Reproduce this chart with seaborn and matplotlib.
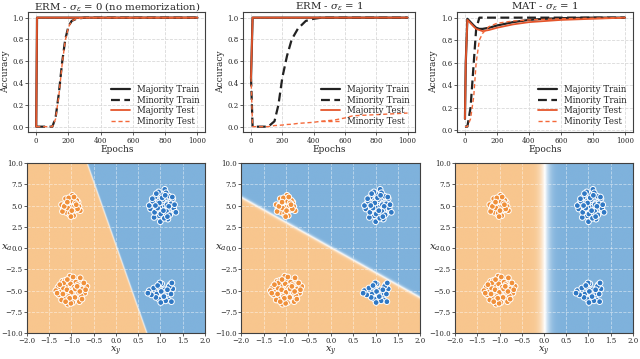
import numpy as np
import pandas as pd
import matplotlib
matplotlib.use("Agg")
import matplotlib.pyplot as plt
import seaborn as sns
from matplotlib.colors import LinearSegmentedColormap

sns.set_style("whitegrid", {"grid.linestyle": "--", "axes.edgecolor": "0.25"})
plt.rcParams["font.family"] = ["DejaVu Serif"]
plt.rcParams["mathtext.fontset"] = "dejavuserif"

# ---- training curves ----
titles = ["ERM - $\\sigma_\\epsilon$ = 0 (no memorization)",
          "ERM - $\\sigma_\\epsilon$ = 1",
          "MAT - $\\sigma_\\epsilon$ = 1"]

ep1 = [0, 5, 20, 50, 100, 120, 140, 160, 180, 200, 220, 250, 300, 400, 600, 800, 1000]
maj_train1 = [0.0, 1, 1, 1, 1, 1, 1, 1, 1, 1, 1, 1, 1, 1, 1, 1, 1]
min_train1 = [0.0, 0, 0, 0, 0.0, 0.08, 0.3, 0.58, 0.8, 0.92, 0.97, 0.99, 1.0, 1.0, 1.0, 1.0, 1.0]
maj_test1 = maj_train1
min_test1 = [0.0, 0, 0, 0, 0.0, 0.07, 0.28, 0.56, 0.79, 0.91, 0.97, 0.99, 1.0, 1.0, 1.0, 1.0, 1.0]

ep2 = [0, 10, 50, 110, 150, 175, 200, 230, 260, 300, 350, 400, 450, 530, 600, 650, 800, 1000]
maj_train2 = [0.45, 1, 1, 1, 1, 1, 1, 1, 1, 1, 1, 1, 1, 1, 1, 1, 1, 1]
min_train2 = [0.45, 0.0, 0.0, 0.0, 0.05, 0.2, 0.45, 0.65, 0.8, 0.9, 0.97, 0.99, 1.0, 1.0, 1.0, 1.0, 1.0, 1.0]
maj_test2 = maj_train2
min_test2 = [0.45, 0.0, 0.0, 0.0, 0.01, 0.012, 0.015, 0.02, 0.022, 0.03, 0.035, 0.04, 0.05, 0.06, 0.08, 0.1, 0.11, 0.125]

ep3 = [0, 5, 15, 35, 55, 70, 90, 110, 150, 200, 300, 400, 500, 600, 800, 1000]
maj_train3 = [0.1, 0.6, 0.99, 0.96, 0.93, 0.91, 0.9, 0.9, 0.91, 0.93, 0.96, 0.98, 0.99, 0.995, 1.0, 1.0]
min_train3 = [0.03, 0.03, 0.03, 0.2, 0.6, 0.9, 1.0, 1.0, 1.0, 1.0, 1.0, 1.0, 1.0, 1.0, 1.0, 1.0]
maj_test3 = [0.1, 0.6, 0.98, 0.95, 0.92, 0.9, 0.89, 0.88, 0.89, 0.91, 0.94, 0.96, 0.97, 0.98, 0.99, 1.0]
min_test3 = [0.03, 0.03, 0.03, 0.1, 0.3, 0.6, 0.8, 0.86, 0.92, 0.95, 0.97, 0.98, 0.985, 0.99, 0.995, 1.0]

curves = [(ep1, maj_train1, min_train1, maj_test1, min_test1),
          (ep2, maj_train2, min_train2, maj_test2, min_test2),
          (ep3, maj_train3, min_train3, maj_test3, min_test3)]

# ---- 2D data clusters ----
bx_maj = [1.05, 0.92, 1.18, 0.85, 1.25, 1.02, 0.97, 1.12, 0.80, 1.30, 1.08, 0.95, 1.20, 0.88, 1.15, 1.00, 0.78, 1.28, 1.10, 0.93,
          1.22, 0.86, 1.03, 1.17, 0.99, 1.35, 0.75, 1.13, 0.90, 1.06, 1.24, 0.83, 1.01, 1.19, 0.96, 1.09, 0.87, 1.27, 1.04, 0.94,
          1.14, 0.82, 1.21, 0.98, 1.11, 1.32, 0.89, 1.07, 0.91, 1.16]
by_maj = [5.0, 5.6, 4.4, 4.9, 5.5, 6.3, 3.8, 5.9, 5.2, 4.7, 4.1, 4.3, 6.1, 6.0, 5.1, 3.1, 4.6, 5.8, 6.9, 5.3,
          4.0, 3.6, 5.4, 3.4, 4.8, 4.2, 5.0, 6.5, 4.5, 5.7, 5.2, 5.5, 4.0, 4.9, 6.6, 3.5, 4.2, 6.0, 5.9, 4.7,
          4.3, 5.8, 3.9, 5.3, 6.2, 5.1, 5.0, 4.4, 6.4, 3.7]
ox_maj = [-1.0, -1.12, -0.88, -1.25, -0.75, -0.98, -1.05, -0.90, -1.30, -0.70, -1.15, -0.85, -1.02, -1.20, -0.80, -0.95, -1.35, -0.65,
          -1.08, -0.92, -1.18, -0.78, -1.03, -1.28, -0.72, -0.97, -1.10, -0.86, -1.22, -0.82, -1.00, -1.14, -0.89, -1.06, -0.94,
          -1.32, -0.68, -1.17, -0.84, -1.01, -1.26, -0.76, -1.09, -0.91, -1.04, -0.96, -1.19, -0.81, -1.13, -0.87]
oy_maj = [-5.0, -4.4, -5.6, -5.1, -4.8, -3.6, -6.2, -4.0, -4.6, -5.3, -5.9, -6.0, -4.2, -3.9, -3.5, -5.4, -5.0, -4.5,
          -6.6, -5.8, -4.7, -5.6, -3.3, -5.5, -4.1, -6.4, -4.9, -4.3, -6.1, -6.3, -5.2, -3.8, -5.0, -5.7, -4.6,
          -5.3, -4.9, -4.1, -5.2, -6.5, -4.3, -6.0, -3.7, -4.8, -5.9, -3.4, -5.4, -5.1, -6.3, -4.5]
ox_min = [-1.0, -1.10, -0.90, -1.18, -0.85, -0.98, -1.05, -0.93, -1.22, -0.80, -1.12, -0.88, -1.02, -1.15, -0.95,
          -1.08, -0.83, -1.20, -0.97, -1.03, -0.91, -1.13, -0.86, -1.06, -0.99, -1.16, -0.94, -1.01, -0.89, -1.09]
oy_min = [4.8, 5.2, 4.5, 4.6, 5.4, 6.2, 4.0, 5.0, 5.1, 4.4, 4.2, 5.6, 5.7, 5.0, 3.8,
          4.7, 4.9, 4.3, 5.5, 4.1, 5.3, 5.8, 4.6, 5.9, 4.4, 4.9, 6.0, 3.7, 5.1, 5.4]
bx_min = [1.05, 0.95, 1.15, 0.88, 1.22, 1.00, 1.10, 0.92, 1.18, 0.75, 1.28, 1.03, 0.97, 1.13, 0.85,
          1.25, 1.07, 0.99, 1.20, 0.90, 1.12, 1.02, 0.80, 1.24, 0.94, 1.08, 1.16, 0.72, 1.01, 1.26]
by_min = [-5.2, -4.6, -5.6, -5.0, -4.3, -5.9, -4.9, -5.4, -6.1, -5.0, -4.8, -4.2, -6.0, -5.3, -4.7,
          -6.3, -5.5, -4.1, -4.5, -5.8, -6.2, -5.1, -5.5, -5.4, -4.4, -5.7, -4.9, -5.3, -6.4, -4.1]

pts = pd.DataFrame({
    "x_y": bx_maj + ox_maj + ox_min + bx_min,
    "x_a": by_maj + oy_maj + oy_min + by_min,
    "label": ["b"] * len(bx_maj) + ["o"] * len(ox_maj) + ["o"] * len(ox_min) + ["b"] * len(bx_min),
})

# decision boundary of each model: (w_y, w_a, bias, sharpness)
boundaries = [(1.0, 0.0675, -0.02, 120.0),
              (2.95, 1.0, 0.0, 9.0),
              (1.0, 0.0, -0.02, 14.0)]

bg_cmap = LinearSegmentedColormap.from_list("ob", ["#f8c68e", "#ffffff", "#7fb2dc"])
pt_colors = {"o": "#f0903a", "b": "#2f78c4"}
col_maj_test = "#e4552b"
col_min_test = "#f4693a"

fig = plt.figure(figsize=(6.4, 3.59), dpi=100)
top_pos = [[0.044, 0.632, 0.277, 0.334], [0.380, 0.632, 0.269, 0.334], [0.714, 0.632, 0.275, 0.334]]
bot_pos = [[0.042, 0.072, 0.278, 0.474], [0.377, 0.072, 0.280, 0.474], [0.711, 0.072, 0.278, 0.474]]

for i in range(3):
    ax = fig.add_axes(top_pos[i])
    ep, mjtr, mntr, mjte, mnte = curves[i]
    sns.lineplot(x=ep, y=mjtr, ax=ax, color="#222222", lw=1.6, label="Majority Train")
    sns.lineplot(x=ep, y=mntr, ax=ax, color="#222222", lw=1.6, linestyle=(0, (4, 2)), label="Minority Train")
    sns.lineplot(x=ep, y=mjte, ax=ax, color=col_maj_test, lw=1.3, label="Majority Test")
    sns.lineplot(x=ep, y=mnte, ax=ax, color=col_min_test, lw=1.0, linestyle=(0, (3, 2)), label="Minority Test")
    ax.set_title(titles[i], fontsize=7.3, pad=2)
    ax.set_xlabel("Epochs", fontsize=6.5, labelpad=0)
    ax.set_ylabel("Accuracy", fontsize=6.5, labelpad=2)
    ax.set_xticks([0, 200, 400, 600, 800, 1000])
    ax.set_yticks([0.0, 0.2, 0.4, 0.6, 0.8, 1.0])
    ax.tick_params(labelsize=5, length=2, width=0.6, pad=1.2, bottom=True, left=True, color="0.25")
    ax.grid(color="0.85", lw=0.6)
    ax.legend(loc="lower right", fontsize=6.2, frameon=False, handlelength=2.2,
              labelspacing=0.2, borderaxespad=0.3)

gx = np.linspace(-2, 2, 400)
gy = np.linspace(-10, 10, 400)
GX, GY = np.meshgrid(gx, gy)

for i in range(3):
    ax = fig.add_axes(bot_pos[i])
    wy, wa, b, k = boundaries[i]
    prob = 1 / (1 + np.exp(-k * (wy * GX + wa * GY + b)))
    ax.imshow(prob, extent=[-2, 2, -10, 10], origin="lower", cmap=bg_cmap,
              vmin=0, vmax=1, aspect="auto", interpolation="bilinear")
    sns.scatterplot(data=pts, x="x_y", y="x_a", hue="label", palette=pt_colors,
                    s=17, edgecolor="white", linewidth=0.7, legend=False, ax=ax, zorder=3)
    ax.set_xlim(-2, 2)
    ax.set_ylim(-10, 10)
    ax.set_xticks(np.arange(-2, 2.01, 0.5))
    ax.set_yticks(np.arange(-10, 10.01, 2.5))
    ax.grid(color="white", alpha=0.5, lw=0.6)
    ax.set_xlabel("$x_y$", fontsize=7, labelpad=0)
    ax.set_ylabel("$x_a$", fontsize=7.5, rotation=0, va="center", ha="center")
    ax.yaxis.set_label_coords(-0.115, 0.5)
    ax.tick_params(labelsize=5, length=2, width=0.6, pad=1, bottom=True, left=True, color="0.25")

fig.savefig("out.png", dpi=100)
